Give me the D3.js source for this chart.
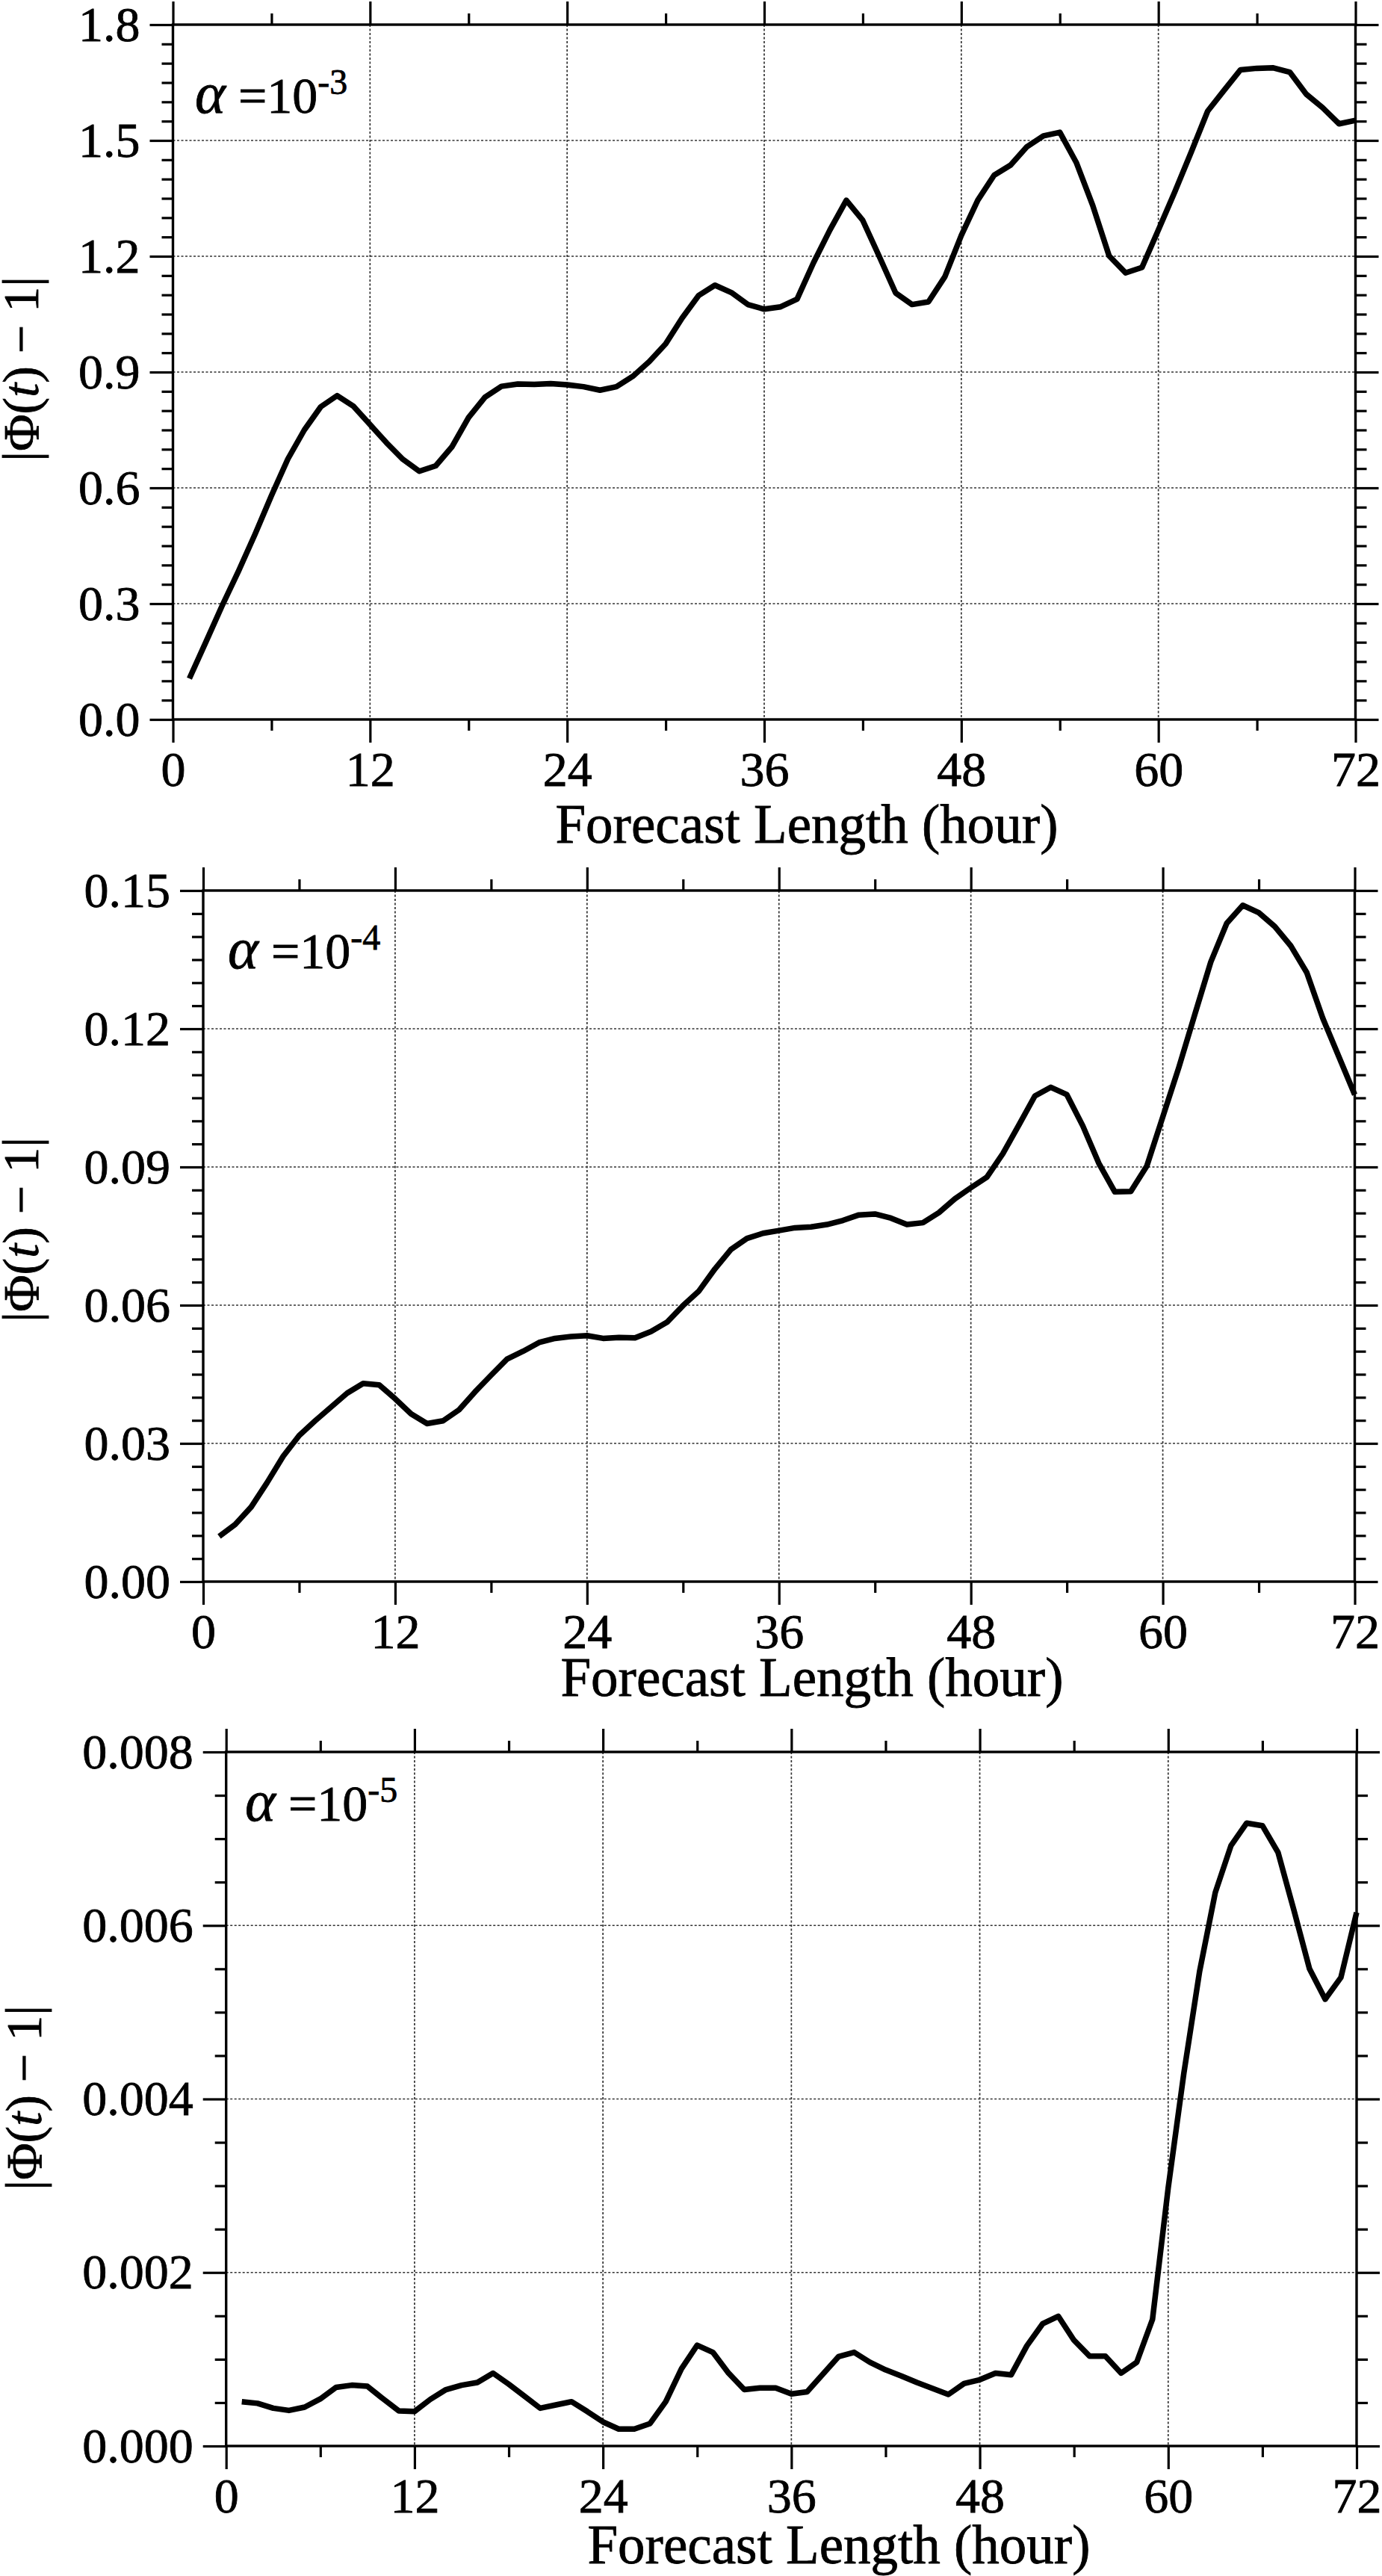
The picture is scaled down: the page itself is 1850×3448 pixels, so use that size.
<!DOCTYPE html>
<html>
<head>
<meta charset="utf-8">
<script src="https://cdn.jsdelivr.net/npm/d3@7/dist/d3.min.js"></script>
<style>
    html, body { margin: 0; padding: 0; background: #ffffff; }
    svg { display: block; }
    text { font-family: "Liberation Serif", "Times New Roman", Times, serif; fill: #000; stroke: #000; stroke-width: 0.8px; }
</style>
</head>
<body>
<div id="chart"></div>
<script>
// Forecast hours of each point (same for the three panels)
var hours = [1, 2, 3, 4, 5, 6, 7, 8, 9, 10, 11, 12, 13, 14, 15, 16, 17, 18, 19, 20, 21, 22, 23, 24,
    25, 26, 27, 28, 29, 30, 31, 32, 33, 34, 35, 36, 37, 38, 39, 40, 41, 42, 43, 44, 45, 46, 47, 48,
    49, 50, 51, 52, 53, 54, 55, 56, 57, 58, 59, 60, 61, 62, 63, 64, 65, 66, 67, 68, 69, 70, 71, 72];

// |Phi(t) - 1| for alpha = 1e-3
var phiAlpha3 = [0.106, 0.20, 0.295, 0.385, 0.48, 0.58, 0.675, 0.75, 0.81, 0.839,
    0.811, 0.764, 0.717, 0.674, 0.643, 0.657, 0.707, 0.782, 0.835, 0.863,
    0.869, 0.868, 0.870, 0.867, 0.862, 0.853, 0.862, 0.889, 0.927, 0.973,
    1.04, 1.098, 1.125, 1.106, 1.075, 1.063, 1.069, 1.089, 1.183, 1.268,
    1.345, 1.293, 1.200, 1.105, 1.075, 1.082, 1.147, 1.254, 1.345, 1.41,
    1.436, 1.484, 1.512, 1.521, 1.443, 1.332, 1.201, 1.157, 1.171, 1.268,
    1.367, 1.470, 1.576, 1.630, 1.683, 1.687, 1.688, 1.677, 1.620, 1.585,
    1.543, 1.552];

// |Phi(t) - 1| for alpha = 1e-4
var phiAlpha4 = [0.0098, 0.0124, 0.0162, 0.0215, 0.0272, 0.0317, 0.0349, 0.0379, 0.0409, 0.0430,
    0.0427, 0.0397, 0.0364, 0.0343, 0.0349, 0.0373, 0.0412, 0.0448, 0.0483, 0.0500,
    0.0519, 0.0528, 0.0532, 0.0534, 0.0528, 0.0530, 0.0529, 0.0543, 0.0563, 0.0599,
    0.0631, 0.0679, 0.0721, 0.0745, 0.0756, 0.0762, 0.0768, 0.0770, 0.0775, 0.0784,
    0.0796, 0.0798, 0.0789, 0.0775, 0.0779, 0.0801, 0.0831, 0.0855, 0.0878, 0.0929,
    0.0991, 0.1054, 0.1073, 0.1057, 0.0989, 0.0908, 0.0846, 0.0847, 0.0902, 0.1009,
    0.1116, 0.1231, 0.1345, 0.1429, 0.1468, 0.1452, 0.1422, 0.1380, 0.1322, 0.1223,
    0.1140, 0.1057];

// |Phi(t) - 1| for alpha = 1e-5
var phiAlpha5 = [0.000511, 0.000492, 0.000436, 0.000410, 0.000448, 0.000543, 0.000676, 0.000701, 0.000688, 0.000543,
    0.000404, 0.000398, 0.000537, 0.000650, 0.000701, 0.000732, 0.000840, 0.000713, 0.000575, 0.000436,
    0.000474, 0.000511, 0.000398, 0.000278, 0.000196, 0.000196, 0.000259, 0.000511, 0.000890, 0.001162,
    0.001080, 0.000840, 0.000650, 0.000670, 0.000670, 0.000600, 0.000625, 0.000827, 0.001030, 0.001080,
    0.000966, 0.000878, 0.000808, 0.000732, 0.000663, 0.000594, 0.000720, 0.000764, 0.000840, 0.000821,
    0.001155, 0.001408, 0.001496, 0.001219, 0.001035, 0.001035, 0.000840, 0.000966, 0.001459, 0.002974,
    0.00430, 0.00547, 0.00638, 0.00692, 0.00718, 0.00715, 0.00684, 0.00618, 0.00550, 0.00515,
    0.00540, 0.00615];

// Tick values and labels
var xTicks = [0, 12, 24, 36, 48, 60, 72];
var xTickLabels = ["0", "12", "24", "36", "48", "60", "72"];
var xMinorTicks = [6, 18, 30, 42, 54, 66];

var yTicks3 = [0, 0.3, 0.6, 0.9, 1.2, 1.5, 1.8];
var yTickLabels3 = ["0.0", "0.3", "0.6", "0.9", "1.2", "1.5", "1.8"];
var yTicks4 = [0, 0.03, 0.06, 0.09, 0.12, 0.15];
var yTickLabels4 = ["0.00", "0.03", "0.06", "0.09", "0.12", "0.15"];
var yTicks5 = [0, 0.002, 0.004, 0.006, 0.008];
var yTickLabels5 = ["0.000", "0.002", "0.004", "0.006", "0.008"];

var alphaExponents = ["-3", "-4", "-5"];
var xTitle = "Forecast Length (hour)";

// Panel layout (pixels on the 1850 x 3448 page)
var panels = [
    { values: phiAlpha3, yTicks: yTicks3, yLabels: yTickLabels3, minorStep: 0.05, exp: alphaExponents[0],
      left: 231.5, right: 1814.5, top: 33, bottom: 963,
      alphaX: 261, alphaY: 151, xTitleX: 1080, xTitleY: 1128, yTitleX: 51, yTitleY: 494 },
    { values: phiAlpha4, yTicks: yTicks4, yLabels: yTickLabels4, minorStep: 0.005, exp: alphaExponents[1],
      left: 272, right: 1813.5, top: 1192, bottom: 2117,
      alphaX: 305, alphaY: 1296, xTitleX: 1087, xTitleY: 2270, yTitleX: 51, yTitleY: 1646 },
    { values: phiAlpha5, yTicks: yTicks5, yLabels: yTickLabels5, minorStep: 0.0005, exp: alphaExponents[2],
      left: 302.7, right: 1816, top: 2345, bottom: 3274,
      alphaX: 328, alphaY: 2437, xTitleX: 1123, xTitleY: 3431, yTitleX: 55, yTitleY: 2808 }
];

var majorLen = 31, minorLen = 15;
var tickFont = 66;

var svg = d3.select("#chart")
    .append("svg")
    .attr("width", 1850)
    .attr("height", 3448);

panels.forEach(function (p) {
    var yMax = p.yTicks[p.yTicks.length - 1];
    var x = d3.scaleLinear().domain([0, 72]).range([p.left, p.right]);
    var y = d3.scaleLinear().domain([0, yMax]).range([p.bottom, p.top]);

    // minor y ticks between the labelled ones
    var majorStep = p.yTicks[1];
    var nMinor = Math.round(yMax / p.minorStep);
    var yMinor = d3.range(0, nMinor + 1)
        .map(function (i) { return i * p.minorStep; })
        .filter(function (v) {
            var r = v / majorStep;
            return Math.abs(r - Math.round(r)) > 1e-6;
        });

    var g = svg.append("g");

    // dotted grid on the inner major ticks
    g.selectAll(".vgrid")
        .data(xTicks.slice(1, -1))
        .enter().append("line")
        .attr("x1", function (d) { return x(d); })
        .attr("x2", function (d) { return x(d); })
        .attr("y1", p.top)
        .attr("y2", p.bottom)
        .attr("stroke", "#333")
        .attr("stroke-width", 1.7)
        .attr("stroke-dasharray", "3,2.5");

    g.selectAll(".hgrid")
        .data(p.yTicks.slice(1, -1))
        .enter().append("line")
        .attr("x1", p.left)
        .attr("x2", p.right)
        .attr("y1", function (d) { return y(d); })
        .attr("y2", function (d) { return y(d); })
        .attr("stroke", "#333")
        .attr("stroke-width", 1.7)
        .attr("stroke-dasharray", "3,2.5");

    // the curve
    var line = d3.line()
        .x(function (d, i) { return x(hours[i]); })
        .y(function (d) { return y(d); });

    g.append("path")
        .datum(p.values)
        .attr("fill", "none")
        .attr("stroke", "#000")
        .attr("stroke-width", 7.5)
        .attr("stroke-linejoin", "round")
        .attr("d", line);

    // helper to style an axis group
    function styleAxis(sel) {
        sel.select(".domain").remove();
        sel.selectAll(".tick line").attr("stroke", "#000").attr("stroke-width", 3.2);
        sel.attr("font-family", null).attr("font-size", tickFont);
    }

    // labelled axes
    g.append("g")
        .attr("transform", "translate(0," + p.bottom + ")")
        .call(d3.axisBottom(x).tickValues(xTicks).tickSize(majorLen).tickPadding(11)
            .tickFormat(function (d, i) { return xTickLabels[i]; }))
        .call(styleAxis);

    g.append("g")
        .attr("transform", "translate(" + p.left + ",0)")
        .call(d3.axisLeft(y).tickValues(p.yTicks).tickSize(majorLen).tickPadding(13)
            .tickFormat(function (d, i) { return p.yLabels[i]; }))
        .call(styleAxis);

    // mirrored axes without labels
    g.append("g")
        .attr("transform", "translate(0," + p.top + ")")
        .call(d3.axisTop(x).tickValues(xTicks).tickSize(majorLen).tickFormat(""))
        .call(styleAxis);

    g.append("g")
        .attr("transform", "translate(" + p.right + ",0)")
        .call(d3.axisRight(y).tickValues(p.yTicks).tickSize(majorLen).tickFormat(""))
        .call(styleAxis);

    // minor ticks on all four sides
    g.append("g")
        .attr("transform", "translate(0," + p.bottom + ")")
        .call(d3.axisBottom(x).tickValues(xMinorTicks).tickSize(minorLen).tickFormat(""))
        .call(styleAxis);
    g.append("g")
        .attr("transform", "translate(0," + p.top + ")")
        .call(d3.axisTop(x).tickValues(xMinorTicks).tickSize(minorLen).tickFormat(""))
        .call(styleAxis);
    g.append("g")
        .attr("transform", "translate(" + p.left + ",0)")
        .call(d3.axisLeft(y).tickValues(yMinor).tickSize(minorLen).tickFormat(""))
        .call(styleAxis);
    g.append("g")
        .attr("transform", "translate(" + p.right + ",0)")
        .call(d3.axisRight(y).tickValues(yMinor).tickSize(minorLen).tickFormat(""))
        .call(styleAxis);

    // frame
    g.append("rect")
        .attr("x", p.left)
        .attr("y", p.top)
        .attr("width", p.right - p.left)
        .attr("height", p.bottom - p.top)
        .attr("fill", "none")
        .attr("stroke", "#000")
        .attr("stroke-width", 3.4);

    // alpha annotation
    var alpha = g.append("text")
        .attr("x", p.alphaX)
        .attr("y", p.alphaY)
        .attr("font-size", 68);
    alpha.append("tspan").attr("font-style", "italic").attr("font-size", 78).text("α");
    alpha.append("tspan").text(" =10");
    alpha.append("tspan").attr("font-size", 48).attr("dy", -25).text(p.exp);

    // x axis title
    g.append("text")
        .attr("x", p.xTitleX)
        .attr("y", p.xTitleY)
        .attr("text-anchor", "middle")
        .attr("font-size", 73)
        .text(xTitle);

    // y axis title
    var yt = g.append("text")
        .attr("transform", "translate(" + p.yTitleX + "," + p.yTitleY + ") rotate(-90)")
        .attr("text-anchor", "middle")
        .attr("font-size", 68);
    yt.append("tspan").text("|Φ(");
    yt.append("tspan").attr("font-style", "italic").text("t");
    yt.append("tspan").text(") − 1|");
});
</script>
</body>
</html>
